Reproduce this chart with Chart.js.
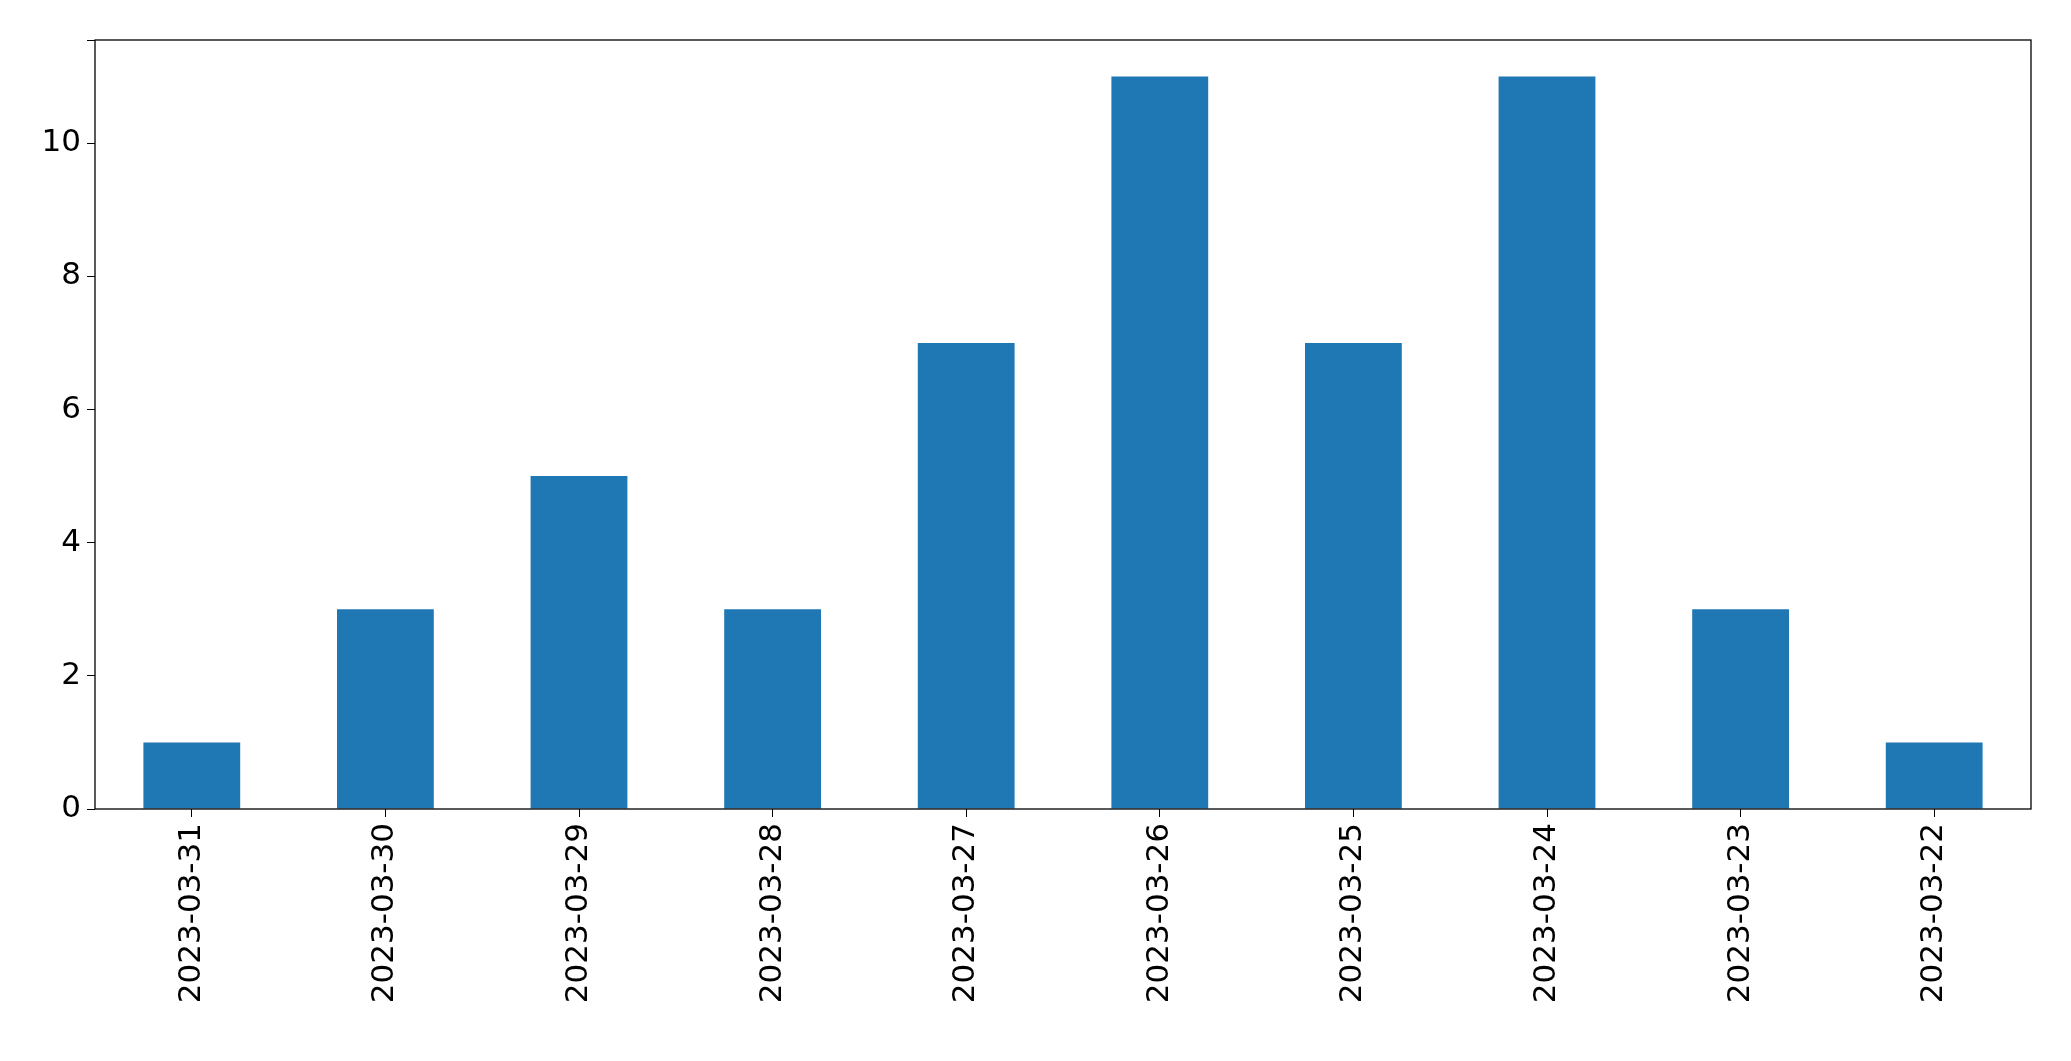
<!DOCTYPE html>
<html>
<head>
<meta charset="utf-8">
<script src="https://cdn.jsdelivr.net/npm/chart.js@4"></script>
<style>
  html, body { margin: 0; padding: 0; background: #fff; }
  #wrap { width: 2071px; height: 1061px; }
</style>
</head>
<body>
<div id="wrap"><canvas id="grafico"></canvas></div>
<script>
const datas = ['2023-03-31', '2023-03-30', '2023-03-29', '2023-03-28', '2023-03-27',
  '2023-03-26', '2023-03-25', '2023-03-24', '2023-03-23', '2023-03-22'];
const contagens = [1, 3, 5, 3, 7, 11, 7, 11, 3, 1];

// moldura em volta da área do gráfico
const moldura = {
  id: 'moldura',
  afterDraw(chart) {
    const { ctx, chartArea: a } = chart;
    ctx.save();
    ctx.strokeStyle = '#000';
    ctx.lineWidth = 1.3;
    ctx.strokeRect(a.left, a.top, a.right - a.left, a.bottom - a.top);
    ctx.restore();
  }
};

new Chart(document.getElementById('grafico'), {
  type: 'bar',
  data: {
    labels: datas,
    datasets: [{
      data: contagens,
      backgroundColor: '#1f77b4',
      categoryPercentage: 1,
      barPercentage: 0.5
    }]
  },
  options: {
    responsive: true,
    maintainAspectRatio: false,
    animation: false,
    layout: { padding: { top: 40, right: 40, left: 0, bottom: 0 } },
    plugins: { legend: { display: false }, tooltip: { enabled: false } },
    scales: {
      x: {
        offset: true,
        grid: { display: true, drawOnChartArea: false, color: '#000', tickLength: 8, offset: false },
        border: { display: false },
        ticks: {
          color: '#000', font: { family: 'DejaVu Sans', size: 31 },
          minRotation: 90, maxRotation: 90, padding: 6
        },
        afterFit(scale) { scale.height = 252; }
      },
      y: {
        min: 0, max: 11.55,
        grid: { display: true, drawOnChartArea: false, color: '#000', tickLength: 8 },
        border: { display: false },
        ticks: {
          stepSize: 2, color: '#000', font: { family: 'DejaVu Sans', size: 31 }, padding: 6,
          callback: v => (v % 2 === 0 ? v : '')
        },
        afterFit(scale) { scale.width = 95; }
      }
    }
  },
  plugins: [moldura]
});
</script>
</body>
</html>
